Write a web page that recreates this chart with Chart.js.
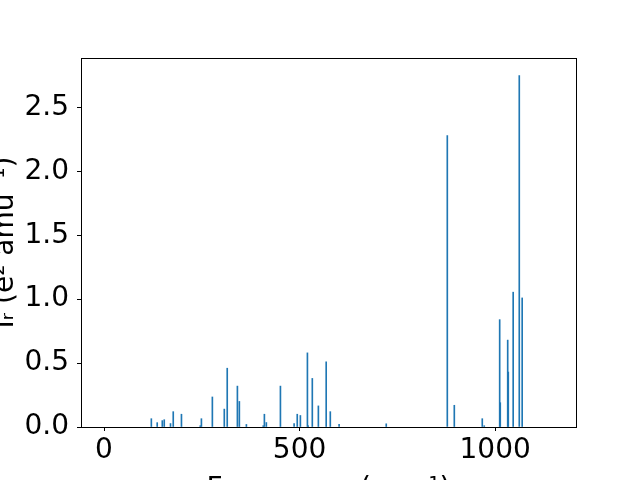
<!DOCTYPE html>
<html>
<head>
<meta charset="utf-8">
<script src="https://cdn.jsdelivr.net/npm/chart.js@4"></script>
<style>
  html, body { margin: 0; padding: 0; overflow: hidden; background: #fff; }
  #wrap { position: absolute; left: -20px; top: 0; width: 660px; height: 510px; }
</style>
</head>
<body>
<div id="wrap"><canvas id="myChart"></canvas></div>
<script>
// frequencies (cm^-1) and IR intensities
const freqs = [121, 136, 149, 154, 170, 177, 198, 246, 249, 277,
    307.5, 315, 341, 346, 364, 407, 410, 415, 451, 486,
    494, 502, 520, 522, 532.5, 548, 568, 578.5, 601, 721.5,
    877.6, 895.5, 967, 972, 1011.5, 1013, 1032, 1033.5, 1046, 1061.6, 1069];
const intensities = [0.065, 0.034, 0.05, 0.057, 0.027, 0.12, 0.10, 0.01, 0.065, 0.235,
    0.14, 0.46, 0.32, 0.20, 0.02, 0.01, 0.10, 0.035, 0.32, 0.027,
    0.10, 0.09, 0.58, 0.01, 0.38, 0.165, 0.51, 0.12, 0.02, 0.025,
    2.28, 0.17, 0.065, 0.01, 0.84, 0.19, 0.68, 0.43, 1.055, 2.75, 1.01];
const xTicks = [0, 500, 1000];
const yTicks = [0, 0.5, 1.0, 1.5, 2.0, 2.5];

const points = [];
for (let i = 0; i < freqs.length; i++) {
    points.push({ x: freqs[i], y: intensities[i] });
}

const font = { family: 'DejaVu Sans', size: 28 };

const frame = {
    id: 'frame',
    afterDatasetsDraw(chart) {
        const a = chart.chartArea;
        const ctx = chart.ctx;
        ctx.save();
        ctx.strokeStyle = '#000';
        ctx.lineWidth = 1;
        ctx.strokeRect(Math.round(a.left) + 0.5, Math.round(a.top) + 0.5,
            Math.round(a.right - a.left), Math.round(a.bottom - a.top));
        ctx.restore();
    }
};

var ctx = document.getElementById('myChart').getContext('2d');
new Chart(ctx, {
    type: 'bar',
    data: {
        datasets: [{
            data: points,
            backgroundColor: '#1f77b4',
            barThickness: 1,
            borderWidth: 0
        }]
    },
    options: {
        responsive: true,
        maintainAspectRatio: false,
        animation: false,
        layout: { padding: { left: 9, right: 64, top: 58, bottom: 3 } },
        plugins: { legend: { display: false }, tooltip: { enabled: false } },
        scales: {
            x: {
                type: 'linear',
                offset: false,
                min: -58.8,
                max: 1206.6,
                afterBuildTicks: (s) => { s.ticks = xTicks.map(v => ({ value: v })); },
                afterFit: (s) => { s.height = 80; },
                grid: { offset: false, drawOnChartArea: false, drawTicks: true, tickLength: 4, color: '#000' },
                border: { display: true, color: '#000' },
                ticks: { color: '#000', font: font, padding: 3, maxRotation: 0, autoSkip: false,
                    callback: (v) => String(v) },
                title: { display: true, text: 'Frequency (cm⁻¹)', color: '#000', font: font, padding: 0 }
            },
            y: {
                min: 0,
                max: 2.8875,
                afterBuildTicks: (s) => { s.ticks = yTicks.map(v => ({ value: v })); },
                afterFit: (s) => { s.width = 92; },
                grid: { drawOnChartArea: false, drawTicks: true, tickLength: 4, color: '#000' },
                border: { display: true, color: '#000' },
                ticks: { color: '#000', font: font, padding: 8, autoSkip: false,
                    callback: (v) => v.toFixed(1) },
                title: { display: true, text: 'Iᵣ (e² amu⁻¹)', color: '#000', font: font, padding: 0 }
            }
        }
    },
    plugins: [frame]
});
</script>
</body>
</html>
